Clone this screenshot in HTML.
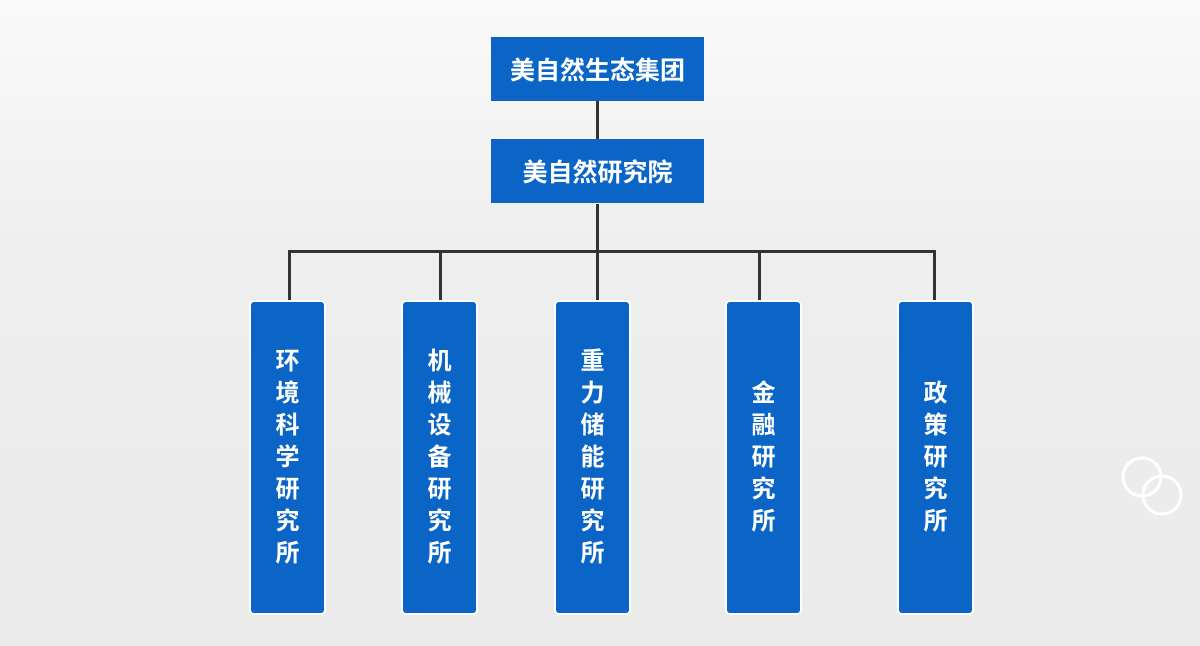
<!DOCTYPE html>
<html><head><meta charset="utf-8"><style>
body{margin:0;width:1200px;height:646px;overflow:hidden;background:linear-gradient(#fafafa 0%,#eeeeee 40%,#ebebeb 100%);font-family:"Liberation Sans","Noto Sans CJK SC",sans-serif;position:relative}
.b{position:absolute;background:#0a65c6;color:#fff;font-weight:bold;display:flex;align-items:center;justify-content:center}
.h{left:491px;width:213px;height:64px;font-size:25px}
.v{top:302px;width:73px;height:311px;border-radius:3px;font-size:24px;flex-direction:column;line-height:32px;box-shadow:0 0 0 2px #fff}
.l{position:absolute;background:#333}
</style></head><body>
<div class="l" style="left:596px;top:101px;width:3px;height:38px"></div>
<div class="l" style="left:596px;top:204px;width:3px;height:98px"></div>
<div class="l" style="left:288px;top:250px;width:648px;height:3px"></div>
<div class="l" style="left:288px;top:250px;width:3px;height:52px"></div>
<div class="l" style="left:439px;top:250px;width:3px;height:52px"></div>
<div class="l" style="left:758px;top:250px;width:3px;height:52px"></div>
<div class="l" style="left:933px;top:250px;width:3px;height:52px"></div>
<div class="b h" style="top:37px">美自然生态集团</div>
<div class="b h" style="top:139px">美自然研究院</div>
<div class="b v" style="left:251px">环<br>境<br>科<br>学<br>研<br>究<br>所</div>
<div class="b v" style="left:403px">机<br>械<br>设<br>备<br>研<br>究<br>所</div>
<div class="b v" style="left:556px">重<br>力<br>储<br>能<br>研<br>究<br>所</div>
<div class="b v" style="left:727px">金<br>融<br>研<br>究<br>所</div>
<div class="b v" style="left:899px">政<br>策<br>研<br>究<br>所</div>
<svg style="position:absolute;left:0;top:0" width="1200" height="646"><circle cx="1142" cy="477" r="19" fill="none" stroke="#fff" stroke-width="3"/><circle cx="1162" cy="495" r="19" fill="none" stroke="#fff" stroke-width="3"/></svg>
</body></html>
